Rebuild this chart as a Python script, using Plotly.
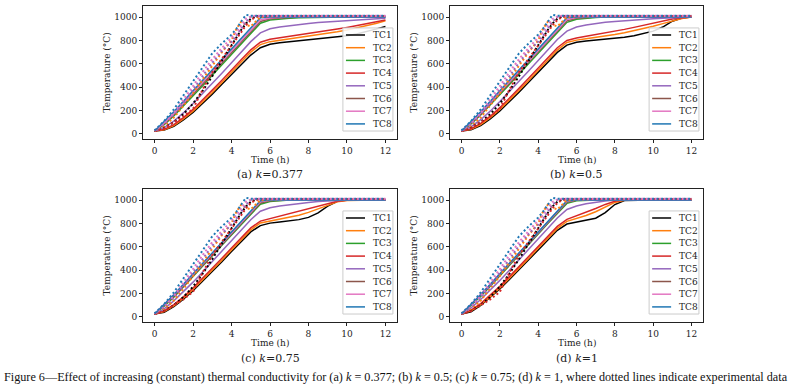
import plotly.graph_objects as go

W, H = 792, 388

# ---------------- data ----------------
time_sim = [0, 0.5, 1, 1.5, 2, 2.5, 3, 3.5, 4, 4.5, 5, 5.5, 6, 6.5, 7, 7.5, 8, 8.5, 9, 9.5, 10, 10.5, 11, 11.5, 12]
time_exp = [0, 0.5, 1, 1.5, 2, 2.5, 3, 3.5, 4, 4.25, 4.5, 4.75, 5, 5.25, 5.5, 6, 7, 8, 9, 10, 11, 12]

tc_names = ["TC1", "TC2", "TC3", "TC4", "TC5", "TC6", "TC7", "TC8"]
tc_colors = ["#000000", "#ff7f0e", "#2ca02c", "#d62728", "#9467bd", "#8c564b", "#e377c2", "#1f77b4"]

panel_captions = ["(a) <i>k</i>=0.377", "(b) <i>k</i>=0.5", "(c) <i>k</i>=0.75", "(d) <i>k</i>=1"]
x_ticks = [0, 2, 4, 6, 8, 10, 12]
y_ticks = [0, 200, 400, 600, 800, 1000]

# (a) k = 0.377
a_TC1 = [25, 33, 65, 120, 185, 260, 340, 425, 510, 595, 675, 738, 768, 780, 788, 795, 802, 810, 818, 828, 840, 856, 875, 897, 920]
a_TC2 = [25, 37, 72, 128, 195, 272, 355, 440, 530, 615, 700, 765, 790, 802, 812, 822, 833, 846, 860, 875, 890, 907, 925, 945, 968]
a_TC3 = [25, 80, 155, 238, 325, 413, 503, 593, 683, 773, 863, 948, 975, 985, 991, 995, 997, 998, 999, 1000, 1000, 1000, 1000, 1000, 1000]
a_TC4 = [25, 40, 80, 140, 210, 290, 375, 460, 550, 635, 720, 785, 810, 822, 833, 845, 857, 870, 884, 898, 912, 927, 942, 958, 975]
a_TC5 = [25, 55, 110, 180, 260, 345, 432, 520, 610, 700, 790, 865, 900, 915, 927, 938, 946, 953, 959, 965, 970, 975, 980, 985, 990]
a_TC6 = [25, 88, 165, 250, 338, 428, 518, 608, 698, 788, 878, 962, 985, 993, 997, 999, 1000, 1000, 1000, 1000, 1000, 1000, 1000, 1000, 1000]
a_TC7 = [25, 95, 175, 262, 352, 442, 532, 622, 712, 802, 892, 975, 993, 998, 1000, 1000, 1000, 1000, 1000, 1000, 1000, 1000, 1000, 1000, 1000]
a_TC8 = [25, 105, 190, 280, 370, 460, 550, 640, 730, 820, 910, 995, 1000, 1000, 1000, 1000, 1000, 1000, 1000, 1000, 1000, 1000, 1000, 1000, 1000]

# (b) k = 0.5
b_TC1 = [25, 35, 72, 130, 198, 275, 358, 443, 530, 615, 698, 760, 785, 795, 802, 809, 817, 827, 840, 857, 880, 915, 965, 992, 1000]
b_TC2 = [25, 40, 80, 140, 210, 288, 372, 458, 547, 633, 718, 783, 803, 815, 826, 838, 851, 866, 883, 902, 922, 944, 967, 988, 1000]
b_TC3 = [25, 85, 162, 247, 335, 424, 514, 604, 694, 784, 874, 955, 982, 992, 997, 1000, 1000, 1000, 1000, 1000, 1000, 1000, 1000, 1000, 1000]
b_TC4 = [25, 45, 90, 152, 225, 305, 390, 476, 565, 652, 738, 800, 822, 837, 850, 864, 879, 895, 912, 930, 948, 966, 983, 995, 1000]
b_TC5 = [25, 62, 122, 195, 277, 362, 450, 538, 628, 718, 808, 880, 915, 932, 945, 955, 963, 970, 976, 981, 986, 990, 994, 997, 1000]
b_TC6 = [25, 92, 170, 257, 346, 436, 526, 616, 706, 796, 886, 968, 990, 997, 1000, 1000, 1000, 1000, 1000, 1000, 1000, 1000, 1000, 1000, 1000]
b_TC7 = [25, 100, 180, 268, 358, 448, 538, 628, 718, 808, 898, 980, 996, 1000, 1000, 1000, 1000, 1000, 1000, 1000, 1000, 1000, 1000, 1000, 1000]
b_TC8 = [25, 105, 190, 280, 370, 460, 550, 640, 730, 820, 910, 995, 1000, 1000, 1000, 1000, 1000, 1000, 1000, 1000, 1000, 1000, 1000, 1000, 1000]

# (c) k = 0.75
c_TC1 = [25, 40, 88, 152, 225, 305, 388, 473, 560, 645, 728, 782, 803, 813, 822, 833, 852, 890, 948, 990, 1000, 1000, 1000, 1000, 1000]
c_TC2 = [25, 47, 95, 160, 235, 316, 400, 486, 574, 660, 745, 805, 822, 836, 850, 870, 895, 925, 958, 985, 997, 1000, 1000, 1000, 1000]
c_TC3 = [25, 92, 170, 256, 344, 433, 523, 613, 703, 793, 883, 965, 988, 996, 1000, 1000, 1000, 1000, 1000, 1000, 1000, 1000, 1000, 1000, 1000]
c_TC4 = [25, 52, 105, 172, 248, 330, 415, 502, 590, 678, 762, 820, 842, 860, 880, 903, 928, 952, 973, 990, 998, 1000, 1000, 1000, 1000]
c_TC5 = [25, 70, 138, 215, 298, 385, 473, 562, 652, 742, 832, 905, 935, 950, 962, 972, 980, 987, 993, 997, 1000, 1000, 1000, 1000, 1000]
c_TC6 = [25, 98, 177, 264, 353, 443, 533, 623, 713, 803, 893, 975, 994, 999, 1000, 1000, 1000, 1000, 1000, 1000, 1000, 1000, 1000, 1000, 1000]
c_TC7 = [25, 105, 185, 273, 363, 453, 543, 633, 723, 813, 903, 985, 998, 1000, 1000, 1000, 1000, 1000, 1000, 1000, 1000, 1000, 1000, 1000, 1000]
c_TC8 = [25, 105, 190, 280, 370, 460, 550, 640, 730, 820, 910, 995, 1000, 1000, 1000, 1000, 1000, 1000, 1000, 1000, 1000, 1000, 1000, 1000, 1000]

# (d) k = 1
d_TC1 = [25, 45, 98, 165, 240, 320, 403, 488, 575, 660, 742, 795, 812, 823, 845, 893, 962, 997, 1000, 1000, 1000, 1000, 1000, 1000, 1000]
d_TC2 = [25, 52, 105, 172, 248, 330, 414, 500, 588, 675, 758, 818, 842, 868, 900, 940, 980, 998, 1000, 1000, 1000, 1000, 1000, 1000, 1000]
d_TC3 = [25, 97, 176, 262, 350, 440, 530, 620, 710, 800, 890, 972, 994, 1000, 1000, 1000, 1000, 1000, 1000, 1000, 1000, 1000, 1000, 1000, 1000]
d_TC4 = [25, 58, 115, 185, 262, 345, 430, 517, 605, 692, 775, 835, 865, 895, 928, 963, 990, 1000, 1000, 1000, 1000, 1000, 1000, 1000, 1000]
d_TC5 = [25, 78, 150, 230, 313, 400, 488, 577, 667, 757, 847, 920, 950, 968, 982, 993, 1000, 1000, 1000, 1000, 1000, 1000, 1000, 1000, 1000]
d_TC6 = [25, 102, 183, 270, 359, 449, 539, 629, 719, 809, 899, 982, 998, 1000, 1000, 1000, 1000, 1000, 1000, 1000, 1000, 1000, 1000, 1000, 1000]
d_TC7 = [25, 108, 190, 278, 368, 458, 548, 638, 728, 818, 908, 990, 1000, 1000, 1000, 1000, 1000, 1000, 1000, 1000, 1000, 1000, 1000, 1000, 1000]
d_TC8 = [25, 105, 190, 280, 370, 460, 550, 640, 730, 820, 910, 995, 1000, 1000, 1000, 1000, 1000, 1000, 1000, 1000, 1000, 1000, 1000, 1000, 1000]

# experimental (dotted), same in all panels
exp_TC1 = [27, 55, 100, 170, 260, 370, 495, 630, 755, 825, 890, 945, 985, 1005, 1010, 1010, 1010, 1010, 1010, 1010, 1010, 1010]
exp_TC2 = [27, 70, 140, 240, 350, 470, 590, 700, 800, 900, 960, 935, 920, 960, 1000, 1008, 1010, 1010, 1010, 1010, 1010, 1010]
exp_TC4 = [25, 50, 100, 150, 215, 380, 530, 640, 750, 810, 870, 930, 975, 1000, 1008, 1010, 1010, 1010, 1010, 1010, 1010, 1010]
exp_TC5 = [28, 85, 165, 265, 380, 500, 610, 710, 790, 840, 900, 960, 1000, 1010, 1010, 1010, 1010, 1010, 1010, 1010, 1010, 1010]
exp_TC7 = [28, 95, 180, 290, 410, 530, 640, 735, 820, 870, 930, 985, 1005, 1012, 1012, 1012, 1012, 1012, 1012, 1012, 1012, 1012]
exp_TC8 = [30, 110, 210, 330, 460, 580, 690, 775, 850, 900, 960, 1020, 1012, 1012, 1015, 1012, 1012, 1012, 1012, 1012, 1012, 1012]

sim_panels = [
    [a_TC1, a_TC2, a_TC3, a_TC4, a_TC5, a_TC6, a_TC7, a_TC8],
    [b_TC1, b_TC2, b_TC3, b_TC4, b_TC5, b_TC6, b_TC7, b_TC8],
    [c_TC1, c_TC2, c_TC3, c_TC4, c_TC5, c_TC6, c_TC7, c_TC8],
    [d_TC1, d_TC2, d_TC3, d_TC4, d_TC5, d_TC6, d_TC7, d_TC8],
]
exp_series = [(0, exp_TC1), (1, exp_TC2), (3, exp_TC4), (4, exp_TC5), (6, exp_TC7), (7, exp_TC8)]

caption = ("Figure 6\u2014Effect of increasing (constant) thermal conductivity for (a) <i>k</i> = 0.377; "
           "(b) <i>k</i> = 0.5; (c) <i>k</i> = 0.75; (d) <i>k</i> = 1, where dotted lines indicate experimental data")

# ---------------- layout geometry (pixels) ----------------
frames = [(143, 6, 397, 139), (450, 6, 703, 139), (143, 189, 397, 322), (450, 189, 703, 322)]
SERIF = "DejaVu Serif"
TXT = "#222222"


def px(xp):
    return xp / W


def py(yp):
    return 1 - yp / H


fig = go.Figure()
axis_ids = ["", "2", "3", "4"]

for p, sims in enumerate(sim_panels):
    xa, ya = "x" + axis_ids[p], "y" + axis_ids[p]
    for i, vals in enumerate(sims):
        fig.add_trace(go.Scatter(x=time_sim, y=vals, mode="lines", name=tc_names[i],
                                 line=dict(color=tc_colors[i], width=1.5),
                                 xaxis=xa, yaxis=ya, showlegend=False, hoverinfo="skip"))
    for i, vals in exp_series:
        fig.add_trace(go.Scatter(x=time_exp, y=vals, mode="lines", name=tc_names[i] + " exp",
                                 line=dict(color=tc_colors[i], width=2, dash="2px,2.5px"),
                                 xaxis=xa, yaxis=ya, showlegend=False, hoverinfo="skip"))

layout = dict(width=W, height=H, margin=dict(l=0, r=0, t=0, b=0, pad=0),
              paper_bgcolor="white", plot_bgcolor="white", showlegend=False)

annotations = []
shapes = []
for p, (l, t, r, b) in enumerate(frames):
    sfx = axis_ids[p]
    common = dict(showline=True, linecolor="#222", linewidth=0.9, mirror=True,
                  ticks="outside", ticklen=3, tickwidth=0.8, tickcolor="#222",
                  showgrid=False, zeroline=False, automargin=False,
                  tickfont=dict(family=SERIF, size=9, color=TXT))
    layout["xaxis" + sfx] = dict(domain=[px(l), px(r)], anchor="y" + sfx,
                                 range=[-0.6, 12.6], tickvals=x_ticks, **common)
    layout["yaxis" + sfx] = dict(domain=[py(b), py(t)], anchor="x" + sfx,
                                 range=[-43, 1095], tickvals=y_ticks, **common)
    cx = (l + r) / 2
    annotations.append(dict(text="Temperature (\u00b0C)", x=px(l - 37), y=py((t + b) / 2),
                            xref="paper", yref="paper", textangle=-90, showarrow=False,
                            xanchor="center", yanchor="middle",
                            font=dict(family=SERIF, size=9, color=TXT)))
    annotations.append(dict(text="Time (h)", x=px(cx), y=py(b + 20.5), xref="paper", yref="paper",
                            showarrow=False, xanchor="center", yanchor="middle",
                            font=dict(family=SERIF, size=9, color=TXT)))
    annotations.append(dict(text=panel_captions[p], x=px(cx), y=py(b + 36), xref="paper", yref="paper",
                            showarrow=False, xanchor="center", yanchor="middle",
                            font=dict(family=SERIF, size=11, color=TXT)))
    # legend box
    xr, yr = "x" + sfx + " domain", "y" + sfx + " domain"
    shapes.append(dict(type="rect", xref=xr, yref=yr, x0=0.787, x1=0.984, y0=0.06, y1=0.835,
                       fillcolor="rgba(255,255,255,0.85)", line=dict(color="#cccccc", width=1)))
    for i in range(8):
        yy = 0.782 - i * 0.0955
        shapes.append(dict(type="line", xref=xr, yref=yr, x0=0.799, x1=0.874, y0=yy, y1=yy,
                           line=dict(color=tc_colors[i], width=1.5)))
        annotations.append(dict(text=tc_names[i], x=0.898, y=yy, xref=xr, yref=yr,
                                xanchor="left", yanchor="middle", showarrow=False,
                                font=dict(family=SERIF, size=9, color=TXT)))

annotations.append(dict(text=caption, x=px(396), y=py(377), xref="paper", yref="paper",
                        showarrow=False, xanchor="center", yanchor="middle",
                        font=dict(family="Liberation Serif", size=12.2, color="#111")))

layout["annotations"] = annotations
layout["shapes"] = shapes
fig.update_layout(**layout)

fig.write_html("out.html", config={"displayModeBar": False},
               post_script="document.body.style.margin='0';")
